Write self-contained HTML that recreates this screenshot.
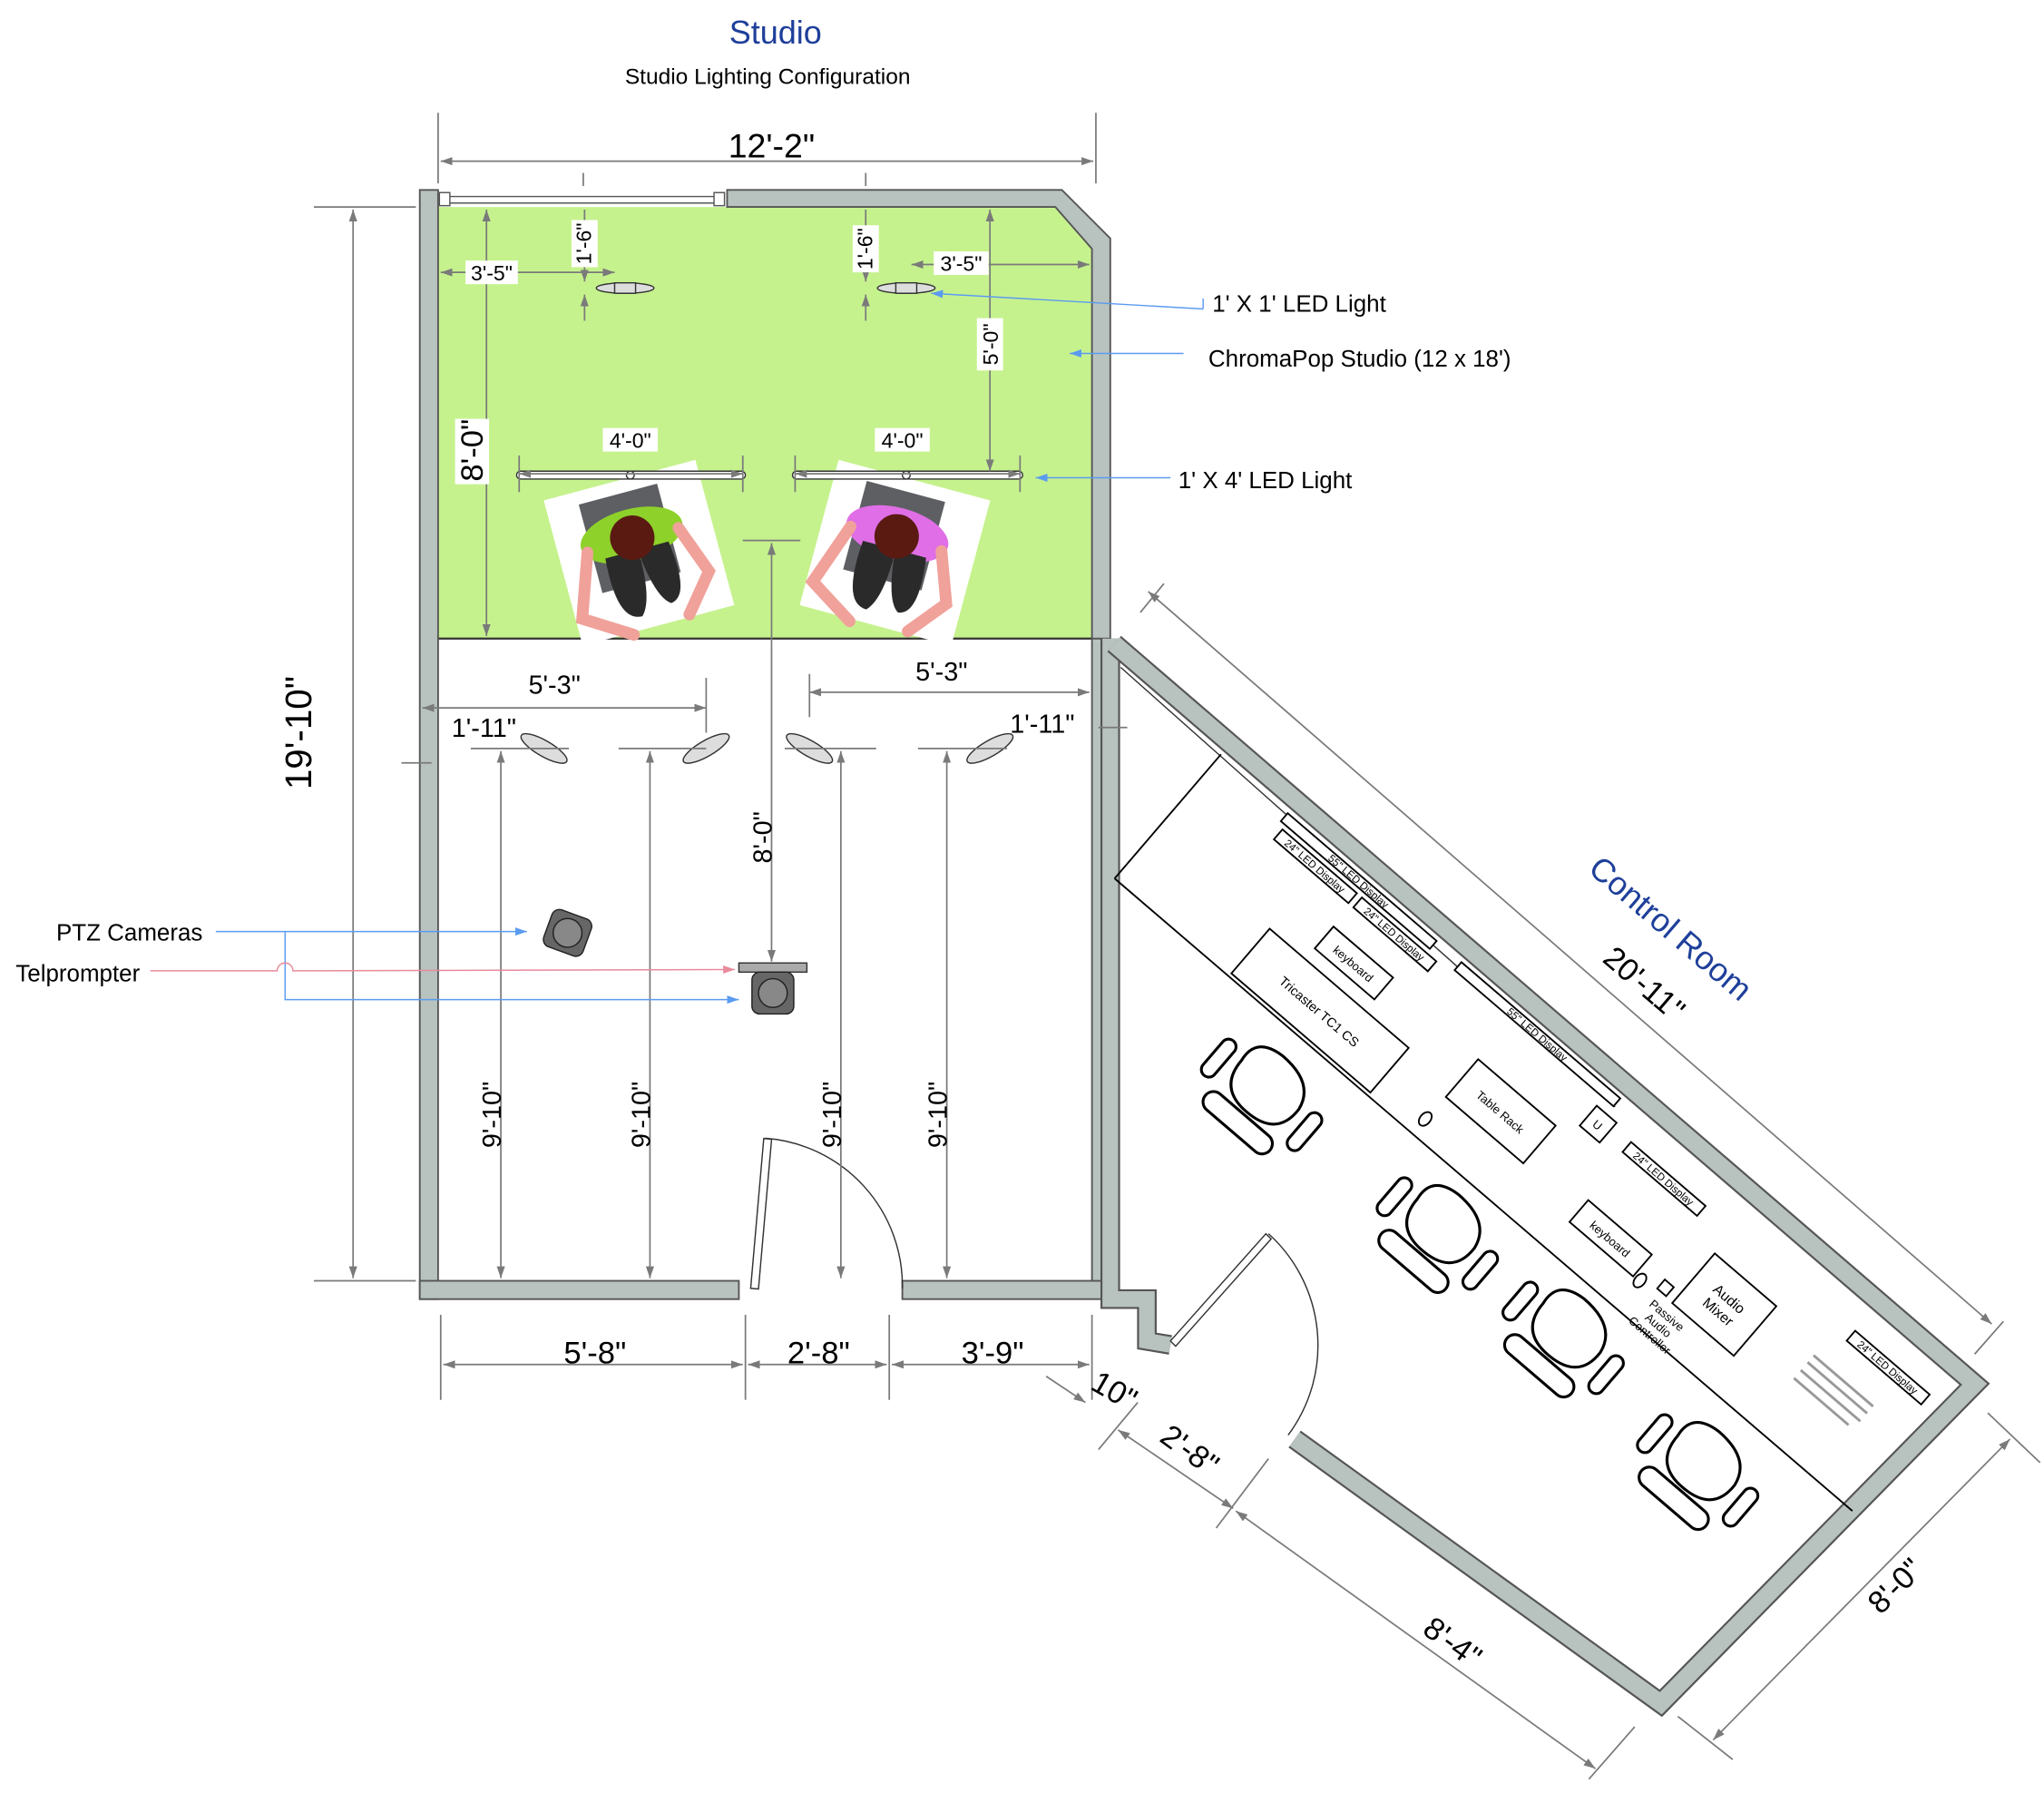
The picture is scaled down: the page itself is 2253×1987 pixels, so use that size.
<!DOCTYPE html>
<html><head><meta charset="utf-8"><style>
html,body{margin:0;padding:0;background:#fff}
svg{display:block}
text{font-family:"Liberation Sans",sans-serif}
</style></head><body>
<svg width="2253" height="1987" viewBox="0 0 1563 1378" xmlns="http://www.w3.org/2000/svg">
<defs>
<marker id="a" viewBox="0 0 10 10" refX="10" refY="5" markerWidth="9" markerHeight="9" orient="auto-start-reverse" markerUnits="userSpaceOnUse"><path d="M0,1.5 L10,5 L0,8.5z" fill="#7a7a7a"/></marker>
<marker id="b" viewBox="0 0 10 10" refX="10" refY="5" markerWidth="9" markerHeight="9" orient="auto" markerUnits="userSpaceOnUse"><path d="M0,1.5 L10,5 L0,8.5z" fill="#5b9bf0"/></marker>
<marker id="p" viewBox="0 0 10 10" refX="10" refY="5" markerWidth="9" markerHeight="9" orient="auto" markerUnits="userSpaceOnUse"><path d="M0,1.5 L10,5 L0,8.5z" fill="#e88a9a"/></marker>
<g id="person">
<rect x="-60" y="-55" width="120" height="115" fill="#fff"/>
<rect x="-35" y="-45" width="62" height="70" fill="#5d5f63"/>
<ellipse cx="-2" cy="-12" rx="40" ry="20" fill="currentColor"/>
<path d="M-38,-8 L-55,40 L-20,62 M34,-8 L48,30 L25,58" stroke="#f0a19a" stroke-width="9" fill="none" stroke-linecap="round"/>
<path d="M-26,0 Q-30,50 -10,50 Q0,40 0,5 Q4,40 14,46 Q30,44 24,0z" fill="#2a2a2a"/>
<circle cx="-2" cy="-10" r="17" fill="#5a1a12"/>
</g>
<g id="chair" transform="scale(0.72)">
<path d="M-40,-30 Q-45,-60 -10,-62 Q35,-62 40,-30 Q42,10 -5,8 Q-40,6 -40,-30z" fill="#fff" stroke="#000" stroke-width="3"/>
<rect x="-45" y="12" width="90" height="22" rx="11" fill="#fff" stroke="#000" stroke-width="3"/>
<rect x="-68" y="-40" width="16" height="48" rx="8" fill="#fff" stroke="#000" stroke-width="3"/>
<rect x="52" y="-40" width="16" height="48" rx="8" fill="#fff" stroke="#000" stroke-width="3"/>
</g>
</defs>

<text x="593" y="33" font-size="25" fill="#1e3f9a" text-anchor="middle">Studio</text>
<text x="587" y="64" font-size="17" text-anchor="middle">Studio Lighting Configuration</text>

<path d="M335,158 L810,158 L835,185 L835,488 L335,488z" fill="#c6f28e"/>
<line x1="335" y1="488" x2="835" y2="488" stroke="#333" stroke-width="1.5"/>

<g fill="#b8c2bf" stroke="#555" stroke-width="1.3">
<rect x="321" y="145" width="14" height="848"/>
<path d="M556,145 L812,145 L849,182 L849,488 L835,488 L835,190 L807,158 L556,158z"/>
<rect x="321" y="979" width="244" height="14"/>
<rect x="690" y="979" width="159" height="14"/>
<path d="M835,488 L849,488 L849,979 L835,979z"/>
</g>
<line x1="340" y1="150" x2="550" y2="150" stroke="#555" stroke-width="1"/>
<line x1="340" y1="155" x2="550" y2="155" stroke="#555" stroke-width="1"/>
<rect x="336" y="147" width="8" height="10" fill="#fff" stroke="#555"/>
<rect x="546" y="147" width="8" height="10" fill="#fff" stroke="#555"/>

<g fill="none" stroke-linejoin="miter">
<path d="M849,488 L849,993 L877,993 L877,1025 L895,1028" stroke="#555" stroke-width="15"/>
<path d="M849,488 L849,993 L877,993 L877,1025 L895,1028" stroke="#b8c2bf" stroke-width="12"/>
<path d="M852,492 L1510,1058 L1270,1302 L990,1100" stroke="#555" stroke-width="16"/>
<path d="M852,492 L1510,1058 L1270,1302 L990,1100" stroke="#b8c2bf" stroke-width="13"/>
</g>
<line x1="857" y1="510" x2="1235" y2="846" stroke="#333" stroke-width="1"/>

<rect x="574" y="870" width="6" height="115" fill="#fff" stroke="#333" transform="rotate(5 577 985)"/>
<path d="M585,870 A113,113 0 0 1 690,985" fill="none" stroke="#333" stroke-width="1"/>
<path d="M895,1025 L968,943 L972,947 L899,1029z" fill="#fff" stroke="#333"/>
<path d="M970,943 A115,115 0 0 1 985,1097" fill="none" stroke="#333" stroke-width="1"/>

<g transform="translate(852,492) rotate(40.6)" stroke="#000" fill="#fff" stroke-width="1.3" font-size="9">
<line x1="117" y1="11" x2="117" y2="136"/>
<line x1="117" y1="136" x2="860" y2="136"/>
<rect x="185" y="12" width="150" height="8"/>
<text x="260" y="19" stroke="none" fill="#000" text-anchor="middle" font-size="8">55" LED Display</text>
<rect x="190" y="24" width="75" height="10"/><text x="227" y="32" stroke="none" fill="#000" text-anchor="middle" font-size="8">24" LED Display</text>
<rect x="270" y="24" width="75" height="10"/><text x="307" y="32" stroke="none" fill="#000" text-anchor="middle" font-size="8">24" LED Display</text>
<rect x="360" y="12" width="160" height="8"/><text x="440" y="19" stroke="none" fill="#000" text-anchor="middle" font-size="8">55" LED Display</text>
<rect x="510" y="28" width="20" height="20"/><text x="520" y="42" stroke="none" fill="#000" text-anchor="middle">U</text>
<rect x="548" y="32" width="75" height="10"/><text x="585" y="40" stroke="none" fill="#000" text-anchor="middle" font-size="8">24" LED Display</text>
<rect x="772" y="30" width="75" height="10"/><text x="809" y="38" stroke="none" fill="#000" text-anchor="middle" font-size="8">24" LED Display</text>
<rect x="268" y="55" width="60" height="22"/><text x="298" y="70" stroke="none" fill="#000" text-anchor="middle">keyboard</text>
<rect x="232" y="88" width="140" height="45"/><text x="302" y="115" stroke="none" fill="#000" text-anchor="middle" font-size="10">Tricaster TC1 CS</text>
<rect x="418" y="60" width="78" height="38"/><text x="457" y="83" stroke="none" fill="#000" text-anchor="middle">Table Rack</text>
<ellipse cx="417" cy="121" rx="4" ry="6"/>
<rect x="552" y="87" width="64" height="22"/><text x="584" y="102" stroke="none" fill="#000" text-anchor="middle">keyboard</text>
<ellipse cx="622" cy="108" rx="4" ry="6"/>
<rect x="636" y="95" width="9" height="9"/>
<text x="655" y="118" stroke="none" fill="#000" text-anchor="middle">Passive</text>
<text x="655" y="128" stroke="none" fill="#000" text-anchor="middle">Audio</text>
<text x="655" y="138" stroke="none" fill="#000" text-anchor="middle">Controller</text>
<rect x="652" y="55" width="62" height="50"/>
<text x="683" y="78" stroke="none" fill="#000" text-anchor="middle" font-size="11">Audio</text>
<text x="683" y="91" stroke="none" fill="#000" text-anchor="middle" font-size="11">Mixer</text>
<g stroke="#999" stroke-width="2"><line x1="760" y1="65" x2="820" y2="65"/><line x1="760" y1="72" x2="820" y2="72"/><line x1="760" y1="80" x2="820" y2="80"/><line x1="760" y1="88" x2="815" y2="88"/></g>
<g transform="translate(310,200)"><use href="#chair"/></g>
<g transform="translate(481,193)"><use href="#chair"/></g>
<g transform="translate(606,191)"><use href="#chair"/></g>
<g transform="translate(750,201)"><use href="#chair"/></g>
</g>

<use href="#person" x="488" y="420" transform="rotate(-15 488 420)" color="#8ed12a"/>
<use href="#person" x="685" y="420" transform="rotate(15 685 420)" color="#e06ee6"/>

<g fill="#ddd" stroke="#333" stroke-width="1">
<rect x="395" y="360" width="175" height="6" rx="3" fill="#fff"/><circle cx="482" cy="363" r="3" fill="#fff"/>
<rect x="606" y="360" width="176" height="6" rx="3" fill="#fff"/><circle cx="693" cy="363" r="3" fill="#fff"/>
<ellipse cx="478" cy="220" rx="22" ry="4"/><rect x="470" y="216" width="16" height="8"/>
<ellipse cx="693" cy="220" rx="22" ry="4"/><rect x="685" y="216" width="16" height="8"/>
<ellipse cx="416" cy="572" rx="20" ry="6" transform="rotate(30 416 572)"/>
<ellipse cx="540" cy="572" rx="20" ry="6" transform="rotate(-30 540 572)"/>
<ellipse cx="619" cy="572" rx="20" ry="6" transform="rotate(30 619 572)"/>
<ellipse cx="757" cy="572" rx="20" ry="6" transform="rotate(-30 757 572)"/>
</g>
<g>
<rect x="418" y="698" width="32" height="30" rx="6" fill="#666" stroke="#222" transform="rotate(20 434 713)"/>
<circle cx="434" cy="713" r="11" fill="#888" stroke="#222"/>
<rect x="565" y="736" width="52" height="7" fill="#aaa" stroke="#333"/>
<rect x="575" y="743" width="32" height="32" rx="6" fill="#666" stroke="#222"/>
<circle cx="591" cy="759" r="11" fill="#888" stroke="#222"/>
</g>

<g stroke="#7a7a7a" stroke-width="1.2" fill="none">
<line x1="335" y1="86" x2="335" y2="140"/><line x1="838" y1="86" x2="838" y2="140"/>
<line x1="337" y1="123" x2="836" y2="123" marker-start="url(#a)" marker-end="url(#a)"/>
<line x1="446" y1="132" x2="446" y2="142"/><line x1="662" y1="132" x2="662" y2="142"/>
<line x1="240" y1="158" x2="318" y2="158"/><line x1="240" y1="979" x2="318" y2="979"/>
<line x1="270" y1="160" x2="270" y2="977" marker-start="url(#a)" marker-end="url(#a)"/>
<line x1="372" y1="160" x2="372" y2="486" marker-start="url(#a)" marker-end="url(#a)"/>
<line x1="337" y1="208" x2="470" y2="208" marker-start="url(#a)" marker-end="url(#a)"/>
<line x1="447" y1="160" x2="447" y2="215" marker-end="url(#a)"/><line x1="447" y1="245" x2="447" y2="225" marker-end="url(#a)"/>
<line x1="662" y1="160" x2="662" y2="215" marker-end="url(#a)"/><line x1="662" y1="245" x2="662" y2="225" marker-end="url(#a)"/>
<line x1="697" y1="202" x2="833" y2="202" marker-start="url(#a)" marker-end="url(#a)"/>
<line x1="757" y1="160" x2="757" y2="360" marker-start="url(#a)" marker-end="url(#a)"/>
<line x1="397" y1="362" x2="568" y2="362" marker-start="url(#a)" marker-end="url(#a)"/>
<line x1="397" y1="348" x2="397" y2="376"/><line x1="568" y1="348" x2="568" y2="376"/>
<line x1="608" y1="362" x2="780" y2="362" marker-start="url(#a)" marker-end="url(#a)"/>
<line x1="608" y1="348" x2="608" y2="376"/><line x1="780" y1="348" x2="780" y2="376"/>
<line x1="568" y1="413" x2="612" y2="413"/>
<line x1="590" y1="415" x2="590" y2="735" marker-start="url(#a)" marker-end="url(#a)"/>
<line x1="323" y1="541" x2="540" y2="541" marker-start="url(#a)" marker-end="url(#a)"/>
<line x1="540" y1="518" x2="540" y2="560"/>
<line x1="619" y1="529" x2="833" y2="529" marker-start="url(#a)" marker-end="url(#a)"/>
<line x1="619" y1="515" x2="619" y2="548"/>
<line x1="307" y1="583" x2="330" y2="583"/><line x1="840" y1="556" x2="862" y2="556"/>
<line x1="360" y1="572" x2="435" y2="572"/><line x1="473" y1="572" x2="540" y2="572"/>
<line x1="600" y1="572" x2="670" y2="572"/><line x1="702" y1="572" x2="770" y2="572"/>
<line x1="383" y1="574" x2="383" y2="977" marker-start="url(#a)" marker-end="url(#a)"/>
<line x1="497" y1="574" x2="497" y2="977" marker-start="url(#a)" marker-end="url(#a)"/>
<line x1="643" y1="574" x2="643" y2="977" marker-start="url(#a)" marker-end="url(#a)"/>
<line x1="724" y1="574" x2="724" y2="977" marker-start="url(#a)" marker-end="url(#a)"/>
<line x1="337" y1="1005" x2="337" y2="1070"/><line x1="570" y1="1005" x2="570" y2="1070"/>
<line x1="680" y1="1005" x2="680" y2="1070"/><line x1="835" y1="1005" x2="835" y2="1070"/>
<line x1="339" y1="1043" x2="568" y2="1043" marker-start="url(#a)" marker-end="url(#a)"/>
<line x1="572" y1="1043" x2="678" y2="1043" marker-start="url(#a)" marker-end="url(#a)"/>
<line x1="682" y1="1043" x2="833" y2="1043" marker-start="url(#a)" marker-end="url(#a)"/>
<line x1="878" y1="452" x2="1523" y2="1012" marker-start="url(#a)" marker-end="url(#a)"/>
<line x1="872" y1="468" x2="890" y2="446"/><line x1="1510" y1="1035" x2="1532" y2="1010"/>
<line x1="1537" y1="1100" x2="1310" y2="1330" marker-start="url(#a)" marker-end="url(#a)"/>
<line x1="1520" y1="1080" x2="1560" y2="1118"/><line x1="1283" y1="1312" x2="1325" y2="1345"/>
<line x1="945" y1="1155" x2="1220" y2="1352" marker-start="url(#a)" marker-end="url(#a)"/>
<line x1="1250" y1="1320" x2="1215" y2="1360"/><line x1="970" y1="1115" x2="930" y2="1168"/>
<line x1="855" y1="1093" x2="943" y2="1153" marker-start="url(#a)" marker-end="url(#a)"/>
<line x1="840" y1="1108" x2="870" y2="1072"/>
<line x1="800" y1="1052" x2="830" y2="1072" marker-end="url(#a)"/>
</g>

<g font-size="24" text-anchor="middle">
<text x="590" y="120" font-size="26">12'-2"</text>
<text transform="translate(238,560) rotate(-90)" font-size="28">19'-10"</text>
<text x="455" y="1042">5'-8"</text><text x="626" y="1042">2'-8"</text><text x="759" y="1042">3'-9"</text>
<text x="424" y="530" font-size="20">5'-3"</text><text x="720" y="520" font-size="20">5'-3"</text>
<text x="370" y="563" font-size="20">1'-11"</text><text x="797" y="560" font-size="20">1'-11"</text>
<text transform="translate(590,640) rotate(-90)" font-size="20">8'-0"</text>
<text transform="translate(383,852) rotate(-90)" font-size="20">9'-10"</text>
<text transform="translate(497,852) rotate(-90)" font-size="20">9'-10"</text>
<text transform="translate(643,852) rotate(-90)" font-size="20">9'-10"</text>
<text transform="translate(724,852) rotate(-90)" font-size="20">9'-10"</text>
</g>
<g font-size="16" text-anchor="middle">
<rect x="348" y="320" width="26" height="50" fill="#fff"/>
<text transform="translate(369,344) rotate(-90)" font-size="24">8'-0"</text>
<rect x="356" y="199" width="40" height="18" fill="#fff"/><text x="376" y="214">3'-5"</text>
<rect x="437" y="168" width="20" height="36" fill="#fff"/><text transform="translate(452,186) rotate(-90)">1'-6"</text>
<rect x="652" y="172" width="20" height="36" fill="#fff"/><text transform="translate(667,190) rotate(-90)">1'-6"</text>
<rect x="714" y="192" width="42" height="18" fill="#fff"/><text x="735" y="207">3'-5"</text>
<rect x="747" y="243" width="20" height="40" fill="#fff"/><text transform="translate(763,263) rotate(-90)">5'-0"</text>
<rect x="461" y="327" width="42" height="18" fill="#fff"/><text x="482" y="342">4'-0"</text>
<rect x="669" y="327" width="42" height="18" fill="#fff"/><text x="690" y="342">4'-0"</text>
</g>
<g font-size="24" text-anchor="middle">
<text transform="translate(1252,758) rotate(40.6)">20'-11"</text>
<text transform="translate(1272,716) rotate(40.6)" fill="#1e3f9a" font-size="25">Control Room</text>
<text transform="translate(1455,1218) rotate(-45)">8'-0"</text>
<text transform="translate(1106,1262) rotate(36)">8'-4"</text>
<text transform="translate(905,1115) rotate(36)">2'-8"</text>
<text transform="translate(848,1070) rotate(30)">10"</text>
</g>

<g stroke="#5b9bf0" stroke-width="1" fill="none">
<line x1="920" y1="236" x2="712" y2="224" marker-end="url(#b)"/>
<line x1="920" y1="236" x2="920" y2="228"/>
<line x1="905" y1="270" x2="818" y2="270" marker-end="url(#b)"/>
<line x1="895" y1="365" x2="792" y2="365" marker-end="url(#b)"/>
<line x1="165" y1="712" x2="403" y2="712" marker-end="url(#b)"/>
<path d="M218,712 L218,764 L565,764" marker-end="url(#b)"/>
</g>
<path d="M115,742 L212,742 A6,6 0 0 1 224,742 L562,741" stroke="#e88a9a" fill="none" marker-end="url(#p)"/>
<g font-size="18">
<text x="927" y="238">1' X 1' LED Light</text>
<text x="924" y="280">ChromaPop Studio (12 x 18')</text>
<text x="901" y="373">1' X 4' LED Light</text>
<text x="43" y="719">PTZ Cameras</text>
<text x="12" y="750">Telprompter</text>
</g>
</svg>
</body></html>
